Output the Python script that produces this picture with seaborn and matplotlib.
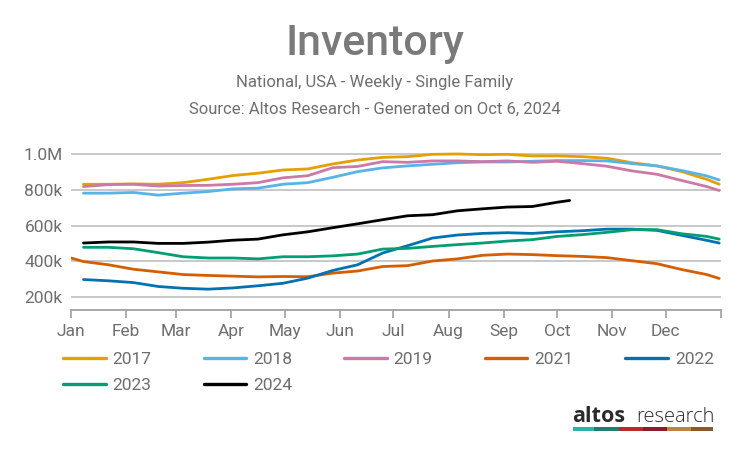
import pandas as pd
import matplotlib.pyplot as plt
import matplotlib.patches as mpatches
import seaborn as sns

# day of year for each reading (roughly every two weeks)
DAYS = [7, 21, 35, 49, 63, 77, 91, 105, 119, 133, 147, 161,
        175, 189, 203, 217, 231, 245, 259, 273, 287, 301, 315, 329, 343, 357, 364]

INV_2017 = [832, 832, 834, 832, 841, 860, 881, 894, 912, 918, 946, 968,
            983, 987, 1000, 1002, 998, 1000, 991, 991, 987, 978, 953, 935, 903, 860, 832]
INV_2018 = [782, 782, 786, 771, 782, 791, 806, 810, 832, 841, 871, 903,
            924, 935, 944, 953, 957, 957, 961, 965, 965, 963, 948, 935, 909, 879, 856]
INV_2019 = [819, 830, 832, 822, 825, 826, 832, 841, 868, 880, 925, 932,
            959, 955, 963, 963, 959, 963, 955, 961, 948, 933, 907, 888, 853, 819, 797]
INV_2021_DAYS = [0] + DAYS
INV_2021 = [418, 398, 380, 355, 340, 325, 320, 316, 312, 314, 313, 333, 345,
            370, 375, 401, 413, 433, 440, 437, 431, 427, 420, 403, 386, 353, 325, 303]
INV_2022 = [297, 290, 280, 258, 248, 243, 250, 262, 276, 305, 348, 380,
            446, 487, 530, 547, 556, 560, 556, 565, 571, 580, 580, 573, 545, 517, 502]
INV_2023 = [478, 478, 470, 448, 425, 418, 418, 413, 425, 425, 430, 440,
            468, 472, 483, 493, 502, 513, 521, 539, 549, 562, 577, 577, 554, 539, 524]
INV_2024_DAYS = DAYS[:20] + [280]
INV_2024 = [502, 508, 508, 500, 500, 507, 518, 524, 548, 565, 588, 610,
            633, 655, 661, 683, 694, 704, 707, 731, 741]

YEARS = ['2017', '2018', '2019', '2021', '2022', '2023', '2024']
COLORS = ['#E69F00', '#56B4E9', '#CC79A7', '#D55E00', '#0072B2', '#009E73', '#000000']

MONTHS = ['Jan', 'Feb', 'Mar', 'Apr', 'May', 'Jun', 'Jul', 'Aug', 'Sep', 'Oct', 'Nov', 'Dec']
MONTH_START = [0, 31, 59, 90, 120, 151, 181, 212, 243, 273, 304, 334]
Y_TICKS = [200e3, 400e3, 600e3, 800e3, 1e6]
Y_LABELS = ['200k', '400k', '600k', '800k', '1.0M']

LOGO_COLORS = ['#2ab5a5', '#1d7f73', '#c0272d', '#8b1a2a', '#c0843a', '#8b5a2b']

series = {
    '2017': (DAYS, INV_2017),
    '2018': (DAYS, INV_2018),
    '2019': (DAYS, INV_2019),
    '2021': (INV_2021_DAYS, INV_2021),
    '2022': (DAYS, INV_2022),
    '2023': (DAYS, INV_2023),
    '2024': (INV_2024_DAYS, INV_2024),
}
rows = []
for year, (days, vals) in series.items():
    for d, v in zip(days, vals):
        rows.append({'day': d, 'inventory': v * 1000, 'year': year})
df = pd.DataFrame(rows)

sns.set_theme(style='white')
FONT = ['Roboto', 'DejaVu Sans']
plt.rcParams['font.family'] = FONT
GREY = '#6e6e6e'

fig = plt.figure(figsize=(7.5, 4.49), dpi=100)
ax = fig.add_axes([71 / 750, 1 - 310 / 449, 650 / 750, 161.9 / 449])

sns.lineplot(data=df, x='day', y='inventory', hue='year', hue_order=YEARS,
             palette=dict(zip(YEARS, COLORS)), linewidth=2.0, sort=False,
             estimator=None, ax=ax)
handles, labels = ax.get_legend_handles_labels()
ax.get_legend().remove()

ax.set_xlim(0, 365)
ax.set_ylim(126e3, 1.035e6)
ax.set_xticks(MONTH_START + [365])
ax.set_xticklabels(MONTHS + [''])
ax.set_yticks(Y_TICKS)
ax.set_yticklabels(Y_LABELS)
ax.set_xlabel('')
ax.set_ylabel('')
ax.yaxis.grid(True, color='#c8c8c8', linewidth=1.4)
ax.set_axisbelow(True)
for side in ['left', 'right', 'top']:
    ax.spines[side].set_visible(False)
ax.spines['bottom'].set_color('#a0a0a0')
ax.spines['bottom'].set_linewidth(1.3)
ax.tick_params(axis='x', direction='out', length=6, width=1.2, color='#a0a0a0',
               labelsize=12.5, labelcolor=GREY, pad=4, bottom=True)
ax.tick_params(axis='y', length=0, labelsize=12.5, labelcolor=GREY, pad=6)

# legend order so rows read 2017..2022 / 2023 2024
order = ['2017', '2023', '2018', '2024', '2019', '2021', '2022']
lut = dict(zip(labels, handles))
leg = fig.legend([lut[k] for k in order], order, loc='upper left',
                 bbox_to_anchor=(63 / 750, 1 - 352 / 449), ncol=5, frameon=False,
                 fontsize=12.5, handlelength=2.45, handletextpad=0.4,
                 columnspacing=3.0, labelspacing=0.62, borderpad=0, borderaxespad=0)
for t in leg.get_texts():
    t.set_color(GREY)
for h in leg.legend_handles:
    h.set_linewidth(2.4)

fig.text(0.5, 1 - 55 / 449, 'Inventory', ha='center', va='baseline', fontsize=31,
         fontweight='medium', color='#7a7a7a', family=FONT)
fig.text(0.5, 1 - 87 / 449, 'National, USA - Weekly - Single Family', ha='center',
         va='baseline', fontsize=12, color=GREY, family=FONT)
fig.text(0.5, 1 - 114 / 449, 'Source: Altos Research - Generated on Oct 6, 2024',
         ha='center', va='baseline', fontsize=12, color=GREY, family=FONT)

# logo
fig.text(572 / 750, 1 - 422 / 449, 'altos', ha='left', va='baseline', fontsize=15.5,
         fontweight='bold', color='#2b2b2b', family=['Open Sans', 'DejaVu Sans'])
fig.text(636 / 750, 1 - 422 / 449, 'research', ha='left', va='baseline', fontsize=14.5,
         fontweight='light', color='#2b2b2b', family=['Open Sans', 'DejaVu Sans'])
edges = [573, 594, 619, 643, 667, 691, 713]
for c, x0, x1 in zip(LOGO_COLORS, edges[:-1], edges[1:]):
    fig.add_artist(mpatches.Rectangle((x0 / 750, 1 - 431 / 449), (x1 - x0) / 750, 4 / 449,
                                      transform=fig.transFigure, color=c, lw=0))

fig.savefig('out.png', dpi=100)
